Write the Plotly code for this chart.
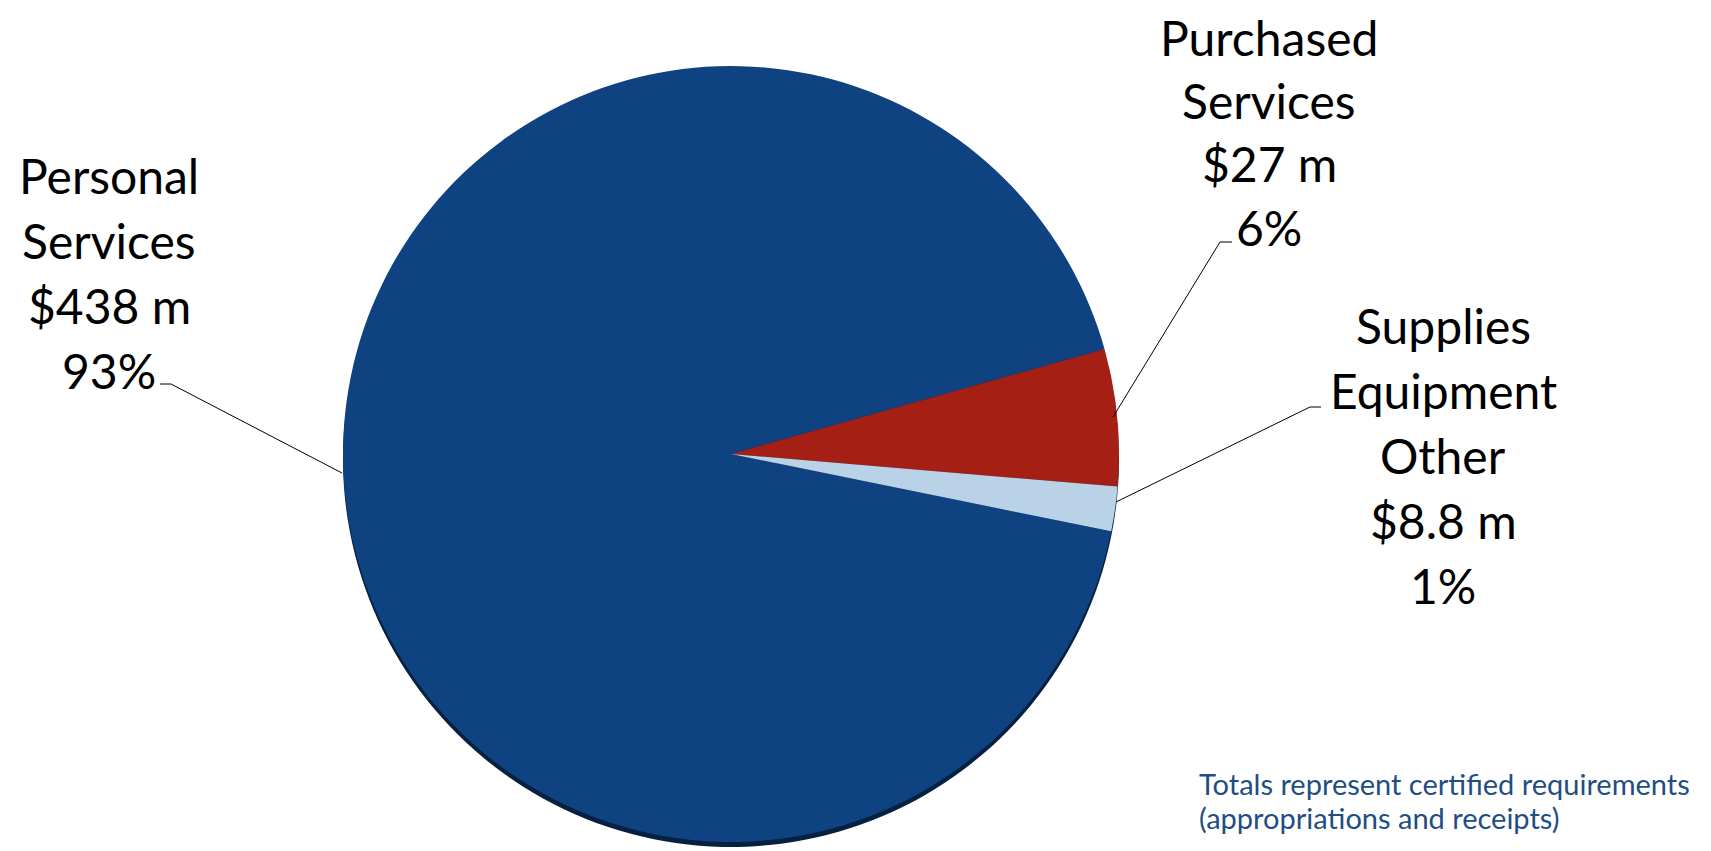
import plotly.graph_objects as go

# page body has an 8px margin, so the figure is sized to fit inside the window
OFF = 8
W, H = 1711 - OFF, 851 - OFF

# ---- data ----
categories = ["Personal Services", "Purchased Services", "Supplies Equipment Other"]
values = [438, 27, 8.8]
name_lines = [["Personal", "Services"], ["Purchased", "Services"], ["Supplies", "Equipment", "Other"]]
amount_labels = ["$438 m", "$27 m", "$8.8 m"]
percent_labels = ["93%", "6%", "1%"]
colors = ["#0f4281", "#a51f14", "#b9d2e8"]
footnote = ["Totals represent certified requirements", "(appropriations and receipts)"]

# ---- layout helpers (window pixel -> paper) ----
def px(x):
    return (x - OFF) / W

def py(y):
    return 1 - (y - OFF) / H

cx, cy, r = 731, 454, 388
dom_x = [px(cx - r), px(cx + r)]
dom_y = [py(cy + r), py(cy - r)]
shadow_y = [py(cy + r + 5), py(cy - r + 5)]

fig = go.Figure()

# soft 3D rim/shadow under the pie
fig.add_trace(go.Pie(
    labels=categories, values=values, sort=False, direction="clockwise",
    rotation=101.5, marker=dict(colors=["#06213f"] * 3, line=dict(width=0)),
    textinfo="none", hoverinfo="skip", showlegend=False,
    domain=dict(x=dom_x, y=shadow_y),
))

fig.add_trace(go.Pie(
    labels=categories, values=values, sort=False, direction="clockwise",
    rotation=101.5, marker=dict(colors=colors, line=dict(width=0)),
    textinfo="none", hoverinfo="label+value", showlegend=False,
    domain=dict(x=dom_x, y=dom_y),
))

# ---- labels ----
label_pos = [  # (center x, first line y, line step)
    (109, 175, 65.3),
    (1269, 37, 63.5),
    (1443, 325, 65.2),
]
font_main = dict(family="Lato, 'Open Sans', sans-serif", size=48, color="#000000")
annotations = []
for i in range(len(categories)):
    lines = name_lines[i] + [amount_labels[i], percent_labels[i]]
    x0, y0, step = label_pos[i]
    for k, t in enumerate(lines):
        annotations.append(dict(
            x=px(x0), y=py(y0 + k * step), xref="paper", yref="paper",
            text=t, showarrow=False, xanchor="center", yanchor="middle",
            font=font_main,
        ))

for k, t in enumerate(footnote):
    annotations.append(dict(
        x=px(1197), y=py(783 + k * 34), xref="paper", yref="paper",
        text=t, showarrow=False, xanchor="left", yanchor="middle",
        font=dict(family="Lato, 'Open Sans', sans-serif", size=29, color="#1f4e84"),
    ))

# leader lines
leaders = [
    [(160, 384), (171, 384), (342, 473)],
    [(1232, 242), (1220, 242), (1113, 417)],
    [(1321, 407), (1310, 407), (1116, 502)],
]
shapes = []
for pts in leaders:
    for (xa, ya), (xb, yb) in zip(pts[:-1], pts[1:]):
        shapes.append(dict(type="line", xref="paper", yref="paper",
                           x0=px(xa), y0=py(ya), x1=px(xb), y1=py(yb),
                           line=dict(color="#000000", width=1)))

fig.update_layout(
    width=W, height=H,
    margin=dict(l=0, r=0, t=0, b=0),
    paper_bgcolor="white", plot_bgcolor="white",
    annotations=annotations, shapes=shapes,
)

fig.write_html("out.html")
